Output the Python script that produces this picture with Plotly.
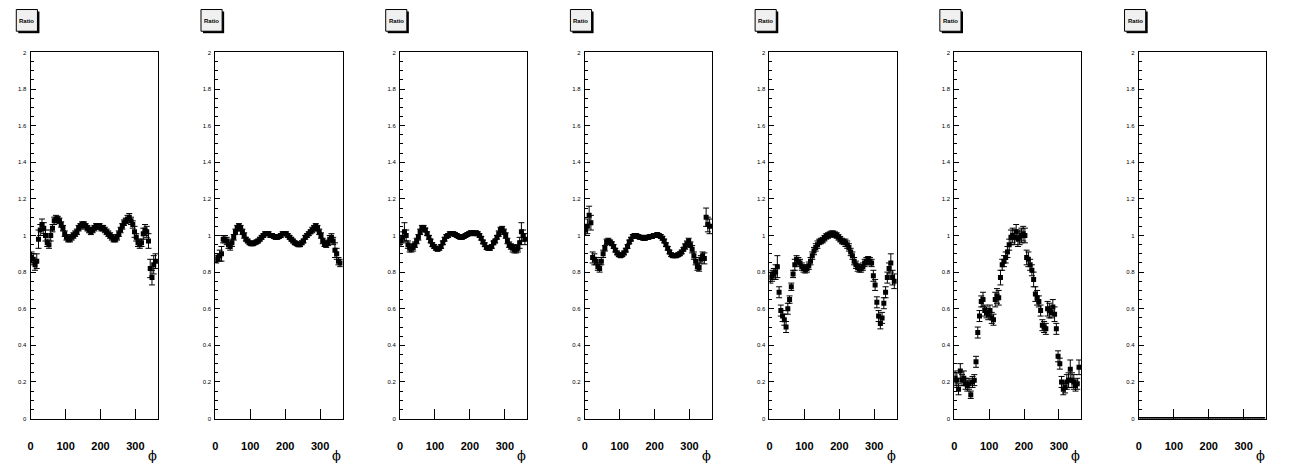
import plotly.graph_objects as go

# ---------------- data ----------------
phi = [2.5, 7.5, 12.5, 17.5, 22.5, 27.5, 32.5, 37.5, 42.5, 47.5,
       52.5, 57.5, 62.5, 67.5, 72.5, 77.5, 82.5, 87.5, 92.5, 97.5,
       102.5, 107.5, 112.5, 117.5, 122.5, 127.5, 132.5, 137.5, 142.5, 147.5,
       152.5, 157.5, 162.5, 167.5, 172.5, 177.5, 182.5, 187.5, 192.5, 197.5,
       202.5, 207.5, 212.5, 217.5, 222.5, 227.5, 232.5, 237.5, 242.5, 247.5,
       252.5, 257.5, 262.5, 267.5, 272.5, 277.5, 282.5, 287.5, 292.5, 297.5,
       302.5, 307.5, 312.5, 317.5, 322.5, 327.5, 332.5, 337.5, 342.5, 347.5,
       352.5, 357.5]

ratio_1 = [0.88, 0.87, 0.84, 0.86, 0.98, 1.03, 1.06, 1.04, 1.00, 0.96,
           0.95, 1.00, 1.04, 1.08, 1.09, 1.09, 1.08, 1.06, 1.04, 1.01,
           0.99, 0.98, 0.98, 0.99, 1.00, 1.01, 1.02, 1.04, 1.05, 1.06,
           1.06, 1.05, 1.04, 1.03, 1.02, 1.03, 1.04, 1.05, 1.05, 1.05,
           1.04, 1.04, 1.03, 1.02, 1.01, 1.00, 0.99, 0.98, 0.98, 0.99,
           1.01, 1.03, 1.05, 1.07, 1.08, 1.09, 1.10, 1.08, 1.06, 1.02,
           0.99, 0.96, 0.95, 0.96, 1.01, 1.03, 1.02, 0.97, 0.82, 0.77,
           0.84, 0.86]
err_1 = [0.03, 0.03, 0.03, 0.04, 0.05, 0.03, 0.03, 0.03, 0.03, 0.02,
         0.02, 0.03, 0.02, 0.02, 0.02, 0.015, 0.015, 0.015, 0.015, 0.015,
         0.015, 0.015, 0.015, 0.015, 0.015, 0.015, 0.015, 0.015, 0.015, 0.015,
         0.015, 0.015, 0.015, 0.015, 0.015, 0.015, 0.015, 0.015, 0.015, 0.015,
         0.015, 0.015, 0.015, 0.015, 0.015, 0.015, 0.015, 0.015, 0.015, 0.015,
         0.015, 0.015, 0.015, 0.015, 0.015, 0.02, 0.02, 0.02, 0.02, 0.03,
         0.02, 0.02, 0.02, 0.02, 0.03, 0.03, 0.03, 0.04, 0.05, 0.04,
         0.05, 0.04]

ratio_2 = [0.87, 0.88, 0.89, 0.90, 0.98, 0.98, 0.97, 0.95, 0.94, 0.96,
           0.99, 1.02, 1.04, 1.05, 1.04, 1.02, 1.00, 0.98, 0.97, 0.96,
           0.955, 0.955, 0.96, 0.965, 0.97, 0.98, 0.99, 1.00, 1.01, 1.01,
           1.01, 1.00, 1.00, 0.995, 0.99, 0.99, 0.995, 1.00, 1.01, 1.01,
           1.01, 1.00, 0.99, 0.98, 0.97, 0.96, 0.955, 0.95, 0.95, 0.96,
           0.97, 0.99, 1.00, 1.01, 1.02, 1.03, 1.04, 1.05, 1.04, 1.02,
           1.00, 0.97, 0.955, 0.95, 0.96, 0.98, 0.99, 0.97, 0.92, 0.90,
           0.86, 0.85]
err_2 = [0.02, 0.02, 0.03, 0.04, 0.02, 0.02, 0.02, 0.02, 0.02, 0.02,
         0.015, 0.015, 0.015, 0.015, 0.015, 0.015, 0.015, 0.01, 0.01, 0.01,
         0.01, 0.01, 0.01, 0.01, 0.01, 0.01, 0.01, 0.01, 0.01, 0.01,
         0.01, 0.01, 0.01, 0.01, 0.01, 0.01, 0.01, 0.01, 0.01, 0.01,
         0.01, 0.01, 0.01, 0.01, 0.01, 0.01, 0.01, 0.01, 0.01, 0.01,
         0.01, 0.01, 0.01, 0.01, 0.01, 0.015, 0.015, 0.015, 0.015, 0.015,
         0.015, 0.015, 0.015, 0.015, 0.015, 0.02, 0.02, 0.02, 0.04, 0.03,
         0.02, 0.02]

ratio_3 = [0.97, 0.99, 1.02, 1.00, 0.95, 0.93, 0.93, 0.935, 0.95, 0.97,
           0.99, 1.02, 1.04, 1.04, 1.03, 1.01, 0.99, 0.97, 0.95, 0.94,
           0.93, 0.925, 0.93, 0.94, 0.96, 0.98, 0.995, 1.00, 1.01, 1.01,
           1.01, 1.005, 1.00, 0.995, 0.99, 0.99, 0.995, 1.00, 1.005, 1.01,
           1.015, 1.015, 1.01, 1.015, 1.01, 1.00, 0.985, 0.965, 0.95, 0.935,
           0.93, 0.93, 0.94, 0.96, 0.97, 0.99, 1.01, 1.03, 1.035, 1.02,
           1.00, 0.97, 0.95, 0.94, 0.93, 0.925, 0.925, 0.93, 0.96, 1.02,
           1.00, 0.98]
err_3 = [0.03, 0.03, 0.05, 0.03, 0.02, 0.02, 0.02, 0.02, 0.015, 0.015,
         0.015, 0.015, 0.015, 0.015, 0.01, 0.01, 0.01, 0.01, 0.01, 0.01,
         0.01, 0.01, 0.01, 0.01, 0.01, 0.01, 0.01, 0.01, 0.01, 0.01,
         0.01, 0.01, 0.01, 0.01, 0.01, 0.01, 0.01, 0.01, 0.01, 0.01,
         0.01, 0.01, 0.01, 0.01, 0.01, 0.01, 0.01, 0.01, 0.01, 0.01,
         0.01, 0.01, 0.01, 0.01, 0.01, 0.01, 0.015, 0.015, 0.015, 0.015,
         0.015, 0.015, 0.015, 0.015, 0.02, 0.02, 0.02, 0.02, 0.03, 0.05,
         0.03, 0.03]

ratio_4 = [1.03, 1.05, 1.11, 1.07, 0.88, 0.87, 0.86, 0.83, 0.82, 0.86,
           0.90, 0.93, 0.965, 0.97, 0.965, 0.955, 0.94, 0.92, 0.905, 0.895,
           0.89, 0.895, 0.905, 0.92, 0.94, 0.965, 0.98, 0.995, 1.00, 1.00,
           0.995, 0.99, 0.99, 0.985, 0.985, 0.99, 0.99, 0.995, 0.995, 1.00,
           1.00, 1.005, 1.00, 0.995, 0.985, 0.97, 0.95, 0.93, 0.91, 0.895,
           0.89, 0.89, 0.89, 0.895, 0.90, 0.91, 0.925, 0.94, 0.955, 0.97,
           0.95, 0.925, 0.89, 0.86, 0.83, 0.825, 0.87, 0.89, 0.875, 1.10,
           1.06, 1.05]
err_4 = [0.03, 0.04, 0.05, 0.04, 0.03, 0.03, 0.02, 0.02, 0.02, 0.02,
         0.02, 0.015, 0.015, 0.015, 0.01, 0.01, 0.01, 0.01, 0.01, 0.01,
         0.01, 0.01, 0.01, 0.01, 0.01, 0.01, 0.01, 0.01, 0.01, 0.01,
         0.01, 0.01, 0.01, 0.01, 0.01, 0.01, 0.01, 0.01, 0.01, 0.01,
         0.01, 0.01, 0.01, 0.01, 0.01, 0.01, 0.01, 0.01, 0.01, 0.01,
         0.01, 0.01, 0.01, 0.01, 0.01, 0.01, 0.01, 0.015, 0.015, 0.015,
         0.015, 0.02, 0.02, 0.02, 0.02, 0.02, 0.02, 0.02, 0.03, 0.05,
         0.04, 0.04]

ratio_5 = [0.77, 0.78, 0.79, 0.80, 0.83, 0.69, 0.59, 0.56, 0.54, 0.50,
           0.60, 0.65, 0.72, 0.79, 0.84, 0.87, 0.86, 0.85, 0.83, 0.82,
           0.815, 0.82, 0.835, 0.86, 0.89, 0.915, 0.935, 0.95, 0.965, 0.97,
           0.975, 0.985, 0.995, 1.00, 1.005, 1.01, 1.01, 1.005, 1.00, 0.99,
           0.98, 0.97, 0.965, 0.96, 0.95, 0.935, 0.91, 0.89, 0.86, 0.84,
           0.825, 0.82, 0.82, 0.83, 0.85, 0.86, 0.865, 0.86, 0.85, 0.78,
           0.73, 0.635, 0.56, 0.52, 0.55, 0.63, 0.69, 0.77, 0.82, 0.85,
           0.77, 0.75]
err_5 = [0.03, 0.03, 0.03, 0.04, 0.06, 0.03, 0.03, 0.03, 0.03, 0.03,
         0.03, 0.02, 0.02, 0.02, 0.03, 0.02, 0.02, 0.02, 0.02, 0.02,
         0.02, 0.02, 0.02, 0.02, 0.02, 0.02, 0.02, 0.02, 0.015, 0.015,
         0.015, 0.015, 0.015, 0.015, 0.015, 0.015, 0.015, 0.015, 0.015, 0.015,
         0.015, 0.015, 0.015, 0.02, 0.02, 0.02, 0.02, 0.02, 0.02, 0.02,
         0.02, 0.02, 0.02, 0.02, 0.02, 0.02, 0.02, 0.02, 0.02, 0.03,
         0.03, 0.03, 0.03, 0.03, 0.03, 0.03, 0.03, 0.03, 0.03, 0.05,
         0.04, 0.04]

ratio_6 = [0.22, 0.21, 0.16, 0.26, 0.21, 0.22, 0.19, 0.18, 0.19, 0.13,
           0.20, 0.21, 0.31, 0.47, 0.56, 0.64, 0.65, 0.59, 0.58, 0.57,
           0.59, 0.55, 0.54, 0.65, 0.67, 0.66, 0.77, 0.84, 0.86, 0.88,
           0.91, 0.95, 0.99, 1.00, 0.99, 1.02, 0.98, 0.99, 1.00, 1.01,
           1.00, 0.88, 0.87, 0.84, 0.81, 0.76, 0.68, 0.66, 0.64, 0.59,
           0.51, 0.50, 0.49, 0.60, 0.59, 0.58, 0.61, 0.57, 0.49, 0.34,
           0.30, 0.20, 0.16, 0.17, 0.20, 0.21, 0.27, 0.21, 0.20, 0.18,
           0.19, 0.28]
err_6 = [0.04, 0.04, 0.03, 0.04, 0.03, 0.04, 0.03, 0.03, 0.03, 0.02,
         0.03, 0.03, 0.03, 0.03, 0.03, 0.03, 0.04, 0.03, 0.03, 0.03,
         0.03, 0.03, 0.03, 0.04, 0.04, 0.04, 0.04, 0.03, 0.03, 0.03,
         0.03, 0.03, 0.04, 0.04, 0.04, 0.04, 0.04, 0.04, 0.04, 0.04,
         0.04, 0.04, 0.04, 0.03, 0.03, 0.04, 0.04, 0.04, 0.03, 0.03,
         0.03, 0.03, 0.03, 0.04, 0.04, 0.03, 0.04, 0.04, 0.03, 0.03,
         0.03, 0.03, 0.03, 0.03, 0.04, 0.04, 0.05, 0.04, 0.04, 0.03,
         0.03, 0.04]

ratio_7 = [0.0] * 72
err_7 = [0.0] * 72

panels = [(ratio_1, err_1), (ratio_2, err_2), (ratio_3, err_3), (ratio_4, err_4),
          (ratio_5, err_5), (ratio_6, err_6), (ratio_7, err_7)]

x_tick_vals = [0, 100, 200, 300]
x_tick_text = ["0", "100", "200", "300"]
x_title = "\u03d5"
pave_title = "Ratio"

# ---------------- layout geometry ----------------
# page is drawn with an 8px body margin, so the figure is shrunk and all
# page-pixel positions are shifted by OFF.
OFF = 8
PAGE_W, PAGE_H = 1296, 472
W, H = PAGE_W - 2 * OFF, PAGE_H - 2 * OFF
PW = PAGE_W / 7.0
FL, FR = 27.7, 155.3        # frame left/right inside each pad (page px)
FT, FB = 50.0, 421.0        # frame top/bottom (page px)


def px(xp):
    return (xp - OFF) / W


def py(yp):
    return 1 - (yp - OFF) / H


fig = go.Figure()
layout = dict(
    width=W, height=H,
    margin=dict(l=0, r=0, t=0, b=0),
    paper_bgcolor="white", plot_bgcolor="white",
    showlegend=False,
    font=dict(family="Liberation Sans, Arial, sans-serif", color="black"),
)
shapes = []
annotations = []

for k, (vals, errs) in enumerate(panels):
    n = k + 1
    xa = "x" if n == 1 else f"x{n}"
    ya = "y" if n == 1 else f"y{n}"
    empty = max(vals) == 0
    fig.add_trace(go.Scatter(
        x=phi, y=vals, xaxis=xa, yaxis=ya, mode="markers",
        marker=dict(symbol="square", size=3 if empty else 5, color="black"),
        error_y=dict(type="data", array=errs, visible=True,
                     color="black", thickness=1, width=0 if empty else 3),
        cliponaxis=True,
    ))
    layout[f"xaxis{n}" if n > 1 else "xaxis"] = dict(
        domain=[px(k * PW + FL), px(k * PW + FR)], range=[0, 364.6], anchor=ya,
        showline=True, linecolor="black", linewidth=1, mirror=True,
        ticks="inside", ticklen=10, tickcolor="black", tickwidth=1,
        tickvals=x_tick_vals, ticktext=x_tick_text,
        tickfont=dict(size=11, weight="bold", family="Liberation Sans, Arial"),
        ticklabelstandoff=17,
        showgrid=False, zeroline=False, fixedrange=True,
    )
    layout[f"yaxis{n}" if n > 1 else "yaxis"] = dict(
        domain=[py(FB), py(FT)], range=[0, 2], anchor=xa,
        showline=True, linecolor="black", linewidth=1, mirror=True,
        ticks="inside", ticklen=5, tickcolor="black", tickwidth=1,
        tick0=0, dtick=0.2,
        minor=dict(ticks="inside", dtick=0.05, ticklen=3, tickcolor="black"),
        tickfont=dict(size=6, family="Liberation Sans, Arial"),
        ticklabelstandoff=2,
        showgrid=False, zeroline=False, fixedrange=True,
    )
    # x title (phi) at bottom right
    annotations.append(dict(
        xref="paper", yref="paper",
        x=px(k * PW + 149.5), y=py(458),
        text=x_title, showarrow=False,
        font=dict(size=13, family="DejaVu Serif, serif", color="black"),
        xanchor="center", yanchor="middle",
    ))
    # "Ratio" pave with shadow
    bx0, bx1, by0, by1 = k * PW + 13.3, k * PW + 34.5, 6.5, 28.5
    shapes.append(dict(type="rect", xref="paper", yref="paper",
                       x0=px(bx0 + 2), x1=px(bx1 + 2),
                       y0=py(by1 + 2), y1=py(by0 + 2),
                       fillcolor="black", line=dict(width=0)))
    shapes.append(dict(type="rect", xref="paper", yref="paper",
                       x0=px(bx0), x1=px(bx1),
                       y0=py(by1), y1=py(by0),
                       fillcolor="#f0f0f0", line=dict(color="black", width=1)))
    annotations.append(dict(
        xref="paper", yref="paper",
        x=px((bx0 + bx1) / 2), y=py(18.5),
        text=f"<b>{pave_title}</b>", showarrow=False,
        font=dict(size=6, family="Liberation Sans, Arial", color="black"),
        xanchor="center", yanchor="middle",
    ))

layout["shapes"] = shapes
layout["annotations"] = annotations
fig.update_layout(**layout)
fig.write_html("out.html")
